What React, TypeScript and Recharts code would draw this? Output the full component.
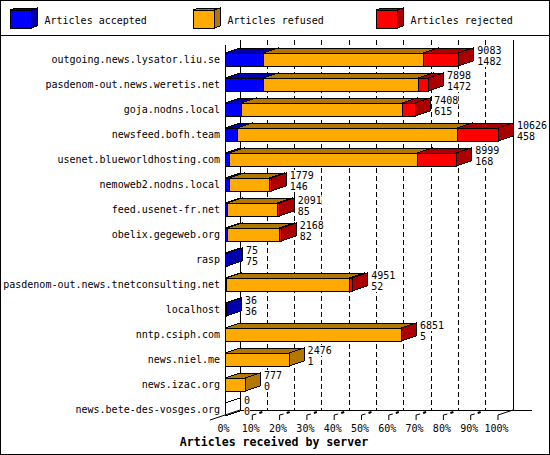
import { BarChart, Bar, XAxis, YAxis, ReferenceLine, LabelList } from 'recharts'

const FONT = '"DejaVu Sans Mono", monospace'
const DEPTH_X = 15
const DEPTH_Y = 5
const PLOT_TOP = 47
const PLOT_BOTTOM = 422

const SERVERS = [
  'outgoing.news.lysator.liu.se',
  'pasdenom-out.news.weretis.net',
  'goja.nodns.local',
  'newsfeed.bofh.team',
  'usenet.blueworldhosting.com',
  'nemoweb2.nodns.local',
  'feed.usenet-fr.net',
  'obelix.gegeweb.org',
  'rasp',
  'pasdenom-out.news.tnetconsulting.net',
  'localhost',
  'nntp.csiph.com',
  'news.niel.me',
  'news.izac.org',
  'news.bete-des-vosges.org',
]
const TOTALS = [9083, 7898, 7408, 10626, 8999, 1779, 2091, 2168, 75, 4951, 36, 6851, 2476, 777, 0]
const ACCEPTED = [1482, 1472, 615, 458, 168, 146, 85, 82, 75, 52, 36, 5, 1, 0, 0]
const REFUSED = [6244, 6028, 6287, 8560, 7317, 1555, 1951, 2032, 0, 4786, 0, 6841, 2475, 777, 0]
const REJECTED = [1357, 398, 506, 1608, 1514, 78, 55, 54, 0, 113, 0, 5, 0, 0, 0]
const PERCENTS = [0, 10, 20, 30, 40, 50, 60, 70, 80, 90, 100]
const MAX_TOTAL = 10626

const data = SERVERS.map((server, i) => ({
  server,
  accepted: ACCEPTED[i],
  refused: REFUSED[i],
  rejected: REJECTED[i],
}))
const pctTicks = PERCENTS.map((p) => (p / 100) * MAX_TOTAL)

const LEGEND = [
  { label: 'Articles accepted', x: 10, fill: '#0000ff', dark: '#0000aa' },
  { label: 'Articles refused', x: 193, fill: '#ffaa00', dark: '#b27700' },
  { label: 'Articles rejected', x: 376, fill: '#ff0000', dark: '#aa0000' },
]

function box3D(x: number, y: number, w: number, h: number, dx: number, dy: number, fill: string, dark: string) {
  return (
    <g stroke="#000" strokeWidth={1} shapeRendering="crispEdges">
      <polygon points={`${x},${y} ${x + dx},${y - dy} ${x + w + dx},${y - dy} ${x + w},${y}`} fill={dark} />
      <polygon points={`${x + w},${y} ${x + w + dx},${y - dy} ${x + w + dx},${y + h - dy} ${x + w},${y + h}`} fill={dark} />
      <rect x={x} y={y} width={w} height={h} fill={fill} />
    </g>
  )
}

const barShape = (fill: string, dark: string, wireframe = false) => (props: any) => {
  const { x, y, width, height, payload } = props
  const left = Math.round(x)
  const right = Math.round(x + width)
  if (width === 0) {
    if (!wireframe || payload.refused + payload.rejected > 0) return <g />
    return (
      <g stroke="#000" shapeRendering="crispEdges">
        <line x1={left} y1={y} x2={left + DEPTH_X} y2={y - DEPTH_Y} />
        <line x1={left} y1={y + height} x2={left + DEPTH_X} y2={y + height - DEPTH_Y} />
      </g>
    )
  }
  return box3D(left, y, right - left, height, DEPTH_X, DEPTH_Y, fill, dark)
}

// the counts sit on a white patch that hides the wall lines behind them
const renderCounts = (props: any) => {
  const { x, y, width, index } = props
  const tx = x + width + DEPTH_X + 4
  const lines = [String(TOTALS[index]), String(ACCEPTED[index])]
  return (
    <g fontFamily={FONT} fontSize={10} fill="#000">
      {lines.map((s, i) => (
        <g key={i}>
          <rect x={tx} y={y - 8 + i * 11} width={s.length * 6} height={11} fill="#fff" />
          <text x={tx} y={y - 3 + i * 11} dominantBaseline="central">{s}</text>
        </g>
      ))}
    </g>
  )
}

const PercentTick = (props: any) => {
  const { x, payload } = props
  const pct = Math.round((payload.value / MAX_TOTAL) * 100)
  const back = PLOT_BOTTOM - 12
  return (
    <g stroke="#000">
      {pct > 0 && <line x1={x} y1={back + 5} x2={x} y2={back + 10} />}
      {pct === 100 && <line x1={x} y1={back + 5} x2={x + DEPTH_X} y2={back} />}
      {pct > 0 && pct < 100 && <line x1={x} y1={back + 5} x2={x + 4} y2={back + 4} />}
      {pct > 0 && pct < 100 && <line x1={x + 7} y1={back + 3} x2={x + 10} y2={back + 2} strokeWidth={2} />}
      <text x={x - 1.5} y={428} textAnchor="middle" dominantBaseline="central" fontFamily={FONT} fontSize={10} fill="#000" stroke="none">
        {pct}%
      </text>
    </g>
  )
}

// back wall lines, shifted from the value's x by the depth of the box
const wallLine = (kind: 'start' | 'mid' | 'end') => (props: any) => {
  const x = props.x1
  const top = PLOT_TOP - 7
  const floor = PLOT_BOTTOM - 12
  if (kind === 'mid') {
    return <line x1={x + DEPTH_X} y1={top} x2={x + DEPTH_X} y2={floor} stroke="#000" strokeDasharray="5 3" shapeRendering="crispEdges" />
  }
  if (kind === 'end') {
    return <line x1={x + DEPTH_X} y1={top} x2={x + DEPTH_X} y2={floor} stroke="#000" shapeRendering="crispEdges" />
  }
  return (
    <g stroke="#000">
      <line x1={x} y1={PLOT_TOP - 2} x2={x} y2={floor + DEPTH_Y} shapeRendering="crispEdges" />
      <line x1={x + DEPTH_X} y1={top} x2={x + DEPTH_X} y2={floor} shapeRendering="crispEdges" />
      <line x1={x + DEPTH_X} y1={floor} x2={532} y2={floor} shapeRendering="crispEdges" />
      <line x1={x - DEPTH_X} y1={floor + 10} x2={x + DEPTH_X} y2={floor} />
    </g>
  )
}

export default function App() {
  return (
    <div style={{ position: 'absolute', left: 0, top: 0, width: 550, height: 455, background: '#fff' }}>
      <BarChart
        width={550}
        height={455}
        data={data}
        layout="vertical"
        barSize={13}
        margin={{ top: PLOT_TOP, right: 52, bottom: 0, left: 0 }}
      >
        <XAxis
          type="number"
          domain={[0, MAX_TOTAL]}
          ticks={pctTicks}
          axisLine={false}
          tickLine={false}
          height={33}
          interval={0}
          tick={<PercentTick />}
        />
        <YAxis
          type="category"
          dataKey="server"
          width={225}
          axisLine={false}
          tickLine={false}
          tickSize={0}
          tickMargin={5}
          interval={0}
          tick={{ fontFamily: FONT, fontSize: 10, fill: '#000' }}
        />
        {pctTicks.map((v, i) => (
          <ReferenceLine
            key={i}
            x={v}
            zIndex={0}
            shape={wallLine(i === 0 ? 'start' : i === pctTicks.length - 1 ? 'end' : 'mid')}
          />
        ))}
        <Bar dataKey="accepted" stackId="a" isAnimationActive={false} shape={barShape('#0000ff', '#0000aa', true)} />
        <Bar dataKey="refused" stackId="a" isAnimationActive={false} shape={barShape('#ffaa00', '#b27700')} />
        <Bar dataKey="rejected" stackId="a" isAnimationActive={false} shape={barShape('#ff0000', '#aa0000')}>
          <LabelList dataKey="rejected" content={renderCounts} />
        </Bar>
      </BarChart>
      <svg width={550} height={455} style={{ position: 'absolute', left: 0, top: 0, pointerEvents: 'none' }}>
        <rect x={0.5} y={0.5} width={549} height={454} fill="none" stroke="#000" />
        <line x1={0} y1={35.5} x2={550} y2={35.5} stroke="#000" />
        {LEGEND.map((item) => (
          <g key={item.label}>
            {box3D(item.x, 10, 21, 18, 6, 2, item.fill, item.dark)}
            <text x={item.x + 34.5} y={20} dominantBaseline="central" fontFamily={FONT} fontSize={10} fill="#000">
              {item.label}
            </text>
          </g>
        ))}
        <text x={274} y={442} textAnchor="middle" dominantBaseline="central" fontFamily={FONT} fontSize={11.6} fontWeight="bold" fill="#000">
          Articles received by server
        </text>
      </svg>
    </div>
  )
}
